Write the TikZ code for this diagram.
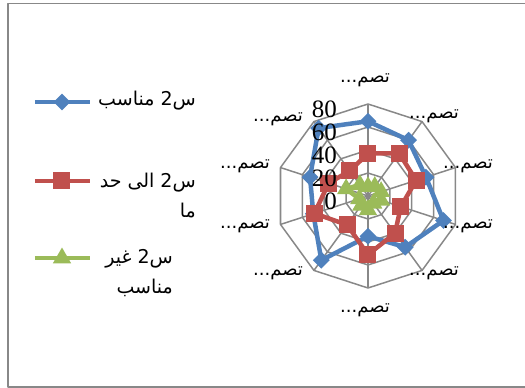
\documentclass[tikz,border=0pt]{standalone}
\usepackage{fontspec}
\setmainfont{Liberation Serif}
\newfontfamily\arabicfont[Script=Arabic]{DejaVu Sans}
\TeXXeTstate=1
\usetikzlibrary{shapes.geometric}
\definecolor{serA}{HTML}{4F81BD}
\definecolor{serB}{HTML}{C0504D}
\definecolor{serC}{HTML}{9BBB59}
\definecolor{gridc}{HTML}{888888}
\tikzstyle{gridline} = [draw=gridc, line width=1.5pt]
\tikzstyle{axlab} = [font=\arabicfont\fontsize{18}{20}\selectfont, inner sep=0pt]
\tikzstyle{numlab} = [font=\fontsize{25}{25}\selectfont, inner sep=0pt, anchor=east]
\tikzstyle{leg} = [font=\arabicfont\fontsize{19}{30}\selectfont, inner sep=0pt, anchor=east, align=right]

\begin{document}
\begin{tikzpicture}[x=1pt, y=1pt, line join=round]
\tikzstyle{lineA} = [draw=serA, line width=4.5pt]
\tikzstyle{lineB} = [draw=serB, line width=4.5pt]
\tikzstyle{lineC} = [draw=serC, line width=4.5pt]
\tikzstyle{markA} = [diamond, fill=serA, minimum size=17pt, inner sep=0pt]
\tikzstyle{markB} = [rectangle, fill=serB, minimum size=17pt, inner sep=0pt]
\tikzstyle{markC} = [regular polygon, regular polygon sides=3, fill=serC, minimum size=21pt, inner sep=0pt]
\useasboundingbox (-368,-192) rectangle (157,196);
\draw[draw=gridc, line width=1.2pt] (159,192.5) -| (-360,-191) -- (159,-191);

\coordinate (ctr) at (0,0);
\foreach \k in {0,...,9}
  \coordinate (v\k) at ({90-36*\k}:92);
\foreach \r in {23,46,69,92}
  \draw[gridline] (90:\r) \foreach \k in {1,...,9} {-- ({90-36*\k}:\r)} -- cycle;
\foreach \k in {0,...,9}
  \draw[gridline] (ctr) -- (v\k);

\foreach \v [count=\i from 0] in {65,60,53,69,55,35,69,50,53,73}
  \coordinate (a\i) at ({90-36*\i}:{1.15*\v});
\foreach \v [count=\i from 0] in {37,46,44,30,40,51,31,49,36,27}
  \coordinate (b\i) at ({90-36*\i}:{1.15*\v});
\foreach \v [count=\i from 0] in {8,10,12,12,8,12,10,8,20,12}
  \coordinate (c\i) at ({90-36*\i}:{1.15*\v});

\draw[lineA] (a0) -- (a1) -- (a2) -- (a3) -- (a4) -- (a5) -- (a6) -- (a7) -- (a8) -- (a9) -- cycle;
\foreach \i in {0,...,9}
  \node[markA] (ma\i) at (a\i) {};
\draw[lineB] (b0) -- (b1) -- (b2) -- (b3) -- (b4) -- (b5) -- (b6) -- (b7) -- (b8) -- (b9) -- cycle;
\foreach \i in {0,...,9}
  \node[markB] (mb\i) at (b\i) {};
\draw[lineC] (c0) -- (c1) -- (c2) -- (c3) -- (c4) -- (c5) -- (c6) -- (c7) -- (c8) -- (c9) -- cycle;
\foreach \i in {0,...,9}
  \node[markC] (mc\i) at (c\i) {};

\foreach \v in {0,20,40,60,80}
  \node[numlab] (n\v) at (-31,{1.15*\v-5}) {\v};

\foreach \p [count=\i from 0] in {(-3,116),(66,80),(100,30),(100,-30),(66,-77),(-3,-114),(-90,-77),(-123,-30),(-123,30),(-90,77)}
  \node[axlab] (l\i) at \p {\beginR تصم...\endR};

\coordinate (kA1) at (-333,94);
\coordinate (kA2) at (-278,94);
\draw[lineA] (kA1) -- (kA2);
\node[markA] (kA) at (-306,94) {};
\node[leg] (tA) at (-172,95) {\beginR س2 مناسب\endR};

\coordinate (kB1) at (-333,15);
\coordinate (kB2) at (-278,15);
\draw[lineB] (kB1) -- (kB2);
\node[markB] (kB) at (-306,15) {};
\node[leg] (tB) at (-172,0) {\beginR س2 الى حد\endR\\\beginR ما\endR};

\coordinate (kC1) at (-333,-62);
\coordinate (kC2) at (-278,-62);
\draw[lineC] (kC1) -- (kC2);
\node[markC] (kC) at (-306,-62) {};
\node[leg] (tC) at (-195,-77) {\beginR س2 غير\endR\\\beginR مناسب\endR};
\end{tikzpicture}
\end{document}
